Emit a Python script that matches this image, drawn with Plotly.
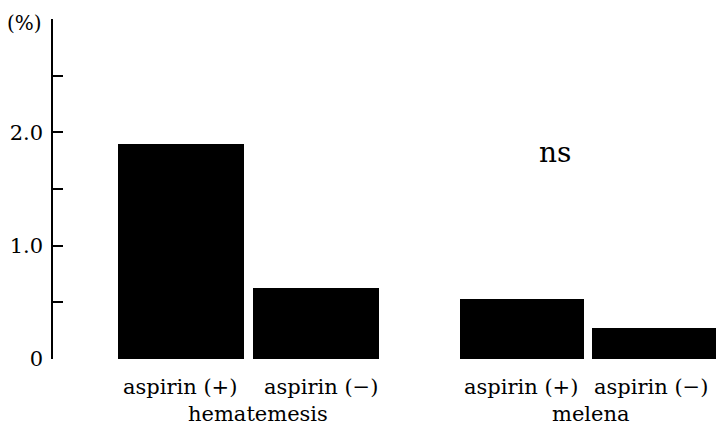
import plotly.graph_objects as go

# Data
groups = ["hematemesis", "melena"]
categories = ["aspirin (+)", "aspirin (−)", "aspirin (+)", "aspirin (−)"]
values = [1.90, 0.63, 0.53, 0.27]
y_tick_values = [0, 0.5, 1.0, 1.5, 2.0, 2.5, 3.0]
y_tick_labels = ["0", "", "1.0", "", "2.0", "", ""]

# Layout (x axis in plot-pixel-like units)
bar_pos = [128, 263, 469, 601]
bar_w = [126, 126, 124, 124]
label_pos = [127, 268, 468, 598]
group_pos = [205, 538]

FONT = "DejaVu Serif"

fig = go.Figure()
fig.add_trace(go.Bar(
    x=bar_pos, y=values, width=bar_w,
    marker=dict(color="black", line=dict(width=0)),
    showlegend=False, hoverinfo="skip",
))

ann = []
for p, c in zip(label_pos, categories):
    ann.append(dict(x=p, y=0, xref="x", yref="y", text=c, showarrow=False,
                    yshift=-28, font=dict(family=FONT, size=21, color="black")))
for p, g in zip(group_pos, groups):
    ann.append(dict(x=p, y=0, xref="x", yref="y", text=g, showarrow=False,
                    yshift=-55, font=dict(family=FONT, size=21, color="black")))
ann.append(dict(x=502, y=1.82, xref="x", yref="y", text="ns", showarrow=False,
                font=dict(family=FONT, size=28, color="black")))
ann.append(dict(x=0, y=3.0, xref="x", yref="y", text="(%)", showarrow=False,
                xanchor="right", xshift=-9, yshift=-4,
                font=dict(family=FONT, size=20, color="black")))

fig.update_layout(
    width=717, height=435,
    margin=dict(l=53, r=0, t=19, b=76),
    plot_bgcolor="white", paper_bgcolor="white",
    xaxis=dict(range=[0, 664], showline=False, showgrid=False, zeroline=False,
               showticklabels=False, ticks="", fixedrange=True),
    yaxis=dict(range=[0, 3.0], showline=True, linecolor="black", linewidth=1.5,
               showgrid=False, zeroline=False, fixedrange=True,
               ticks="inside", ticklen=10, tickwidth=1.5, tickcolor="black",
               tickvals=y_tick_values, ticktext=y_tick_labels,
               ticklabelstandoff=4,
               tickfont=dict(family=FONT, size=21, color="black")),
    annotations=ann,
    bargap=0,
)

fig.write_html(
    "out.html",
    config={"displayModeBar": False},
    post_script="document.body.style.margin='0';document.body.style.overflow='hidden';",
)
